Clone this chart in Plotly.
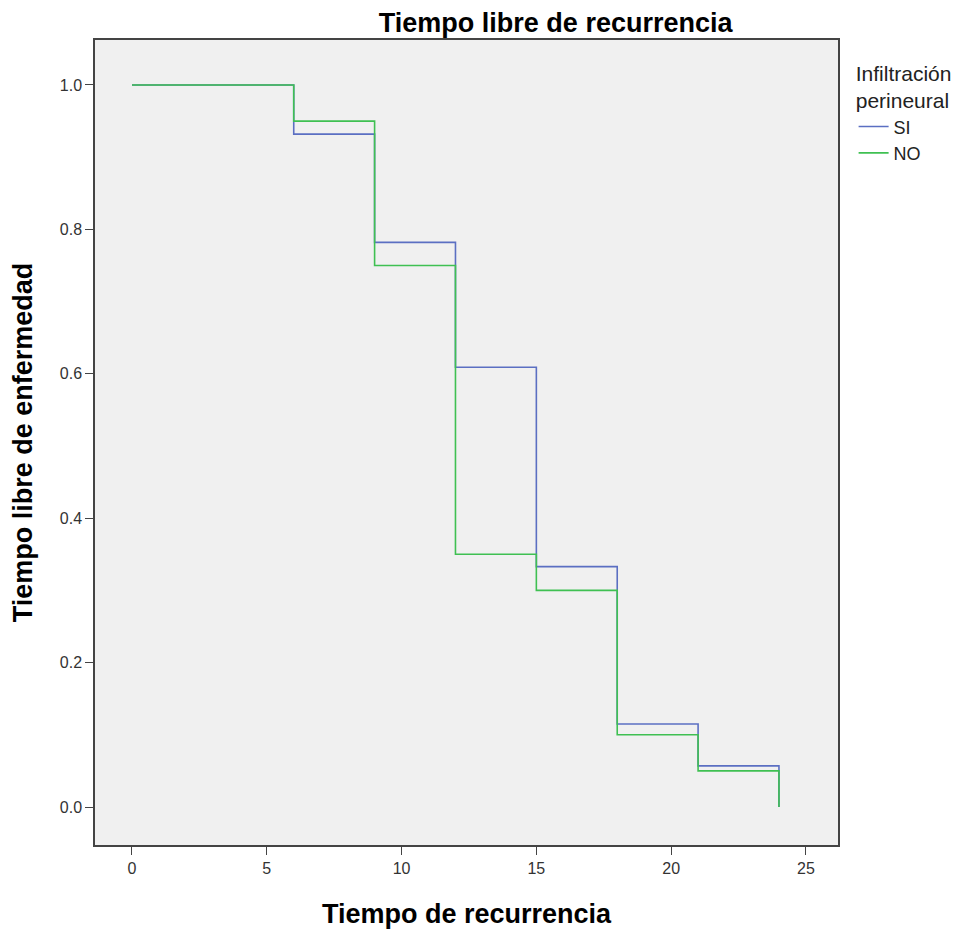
import plotly.graph_objects as go

times = [0, 6, 9, 12, 15, 18, 21, 24]
surv_si = [1.0, 0.932, 0.782, 0.609, 0.333, 0.115, 0.057, 0.0]
surv_no = [1.0, 0.95, 0.75, 0.35, 0.30, 0.10, 0.05, 0.0]
x_ticks = [0, 5, 10, 15, 20, 25]
y_ticks = [0.0, 0.2, 0.4, 0.6, 0.8, 1.0]

fig = go.Figure()
fig.add_trace(go.Scatter(x=times, y=surv_si, mode="lines", name="SI",
                         line=dict(color="#5b6fc2", width=1.6, shape="hv")))
fig.add_trace(go.Scatter(x=times, y=surv_no, mode="lines", name="NO",
                         line=dict(color="#3fc052", width=1.6, shape="hv")))

fig.update_layout(
    width=964, height=932,
    margin=dict(l=87, r=134, t=32, b=95),
    paper_bgcolor="white",
    plot_bgcolor="#f0f0f0",
    font=dict(family="Liberation Sans, Arial, sans-serif", color="#222222", size=14),
    title=dict(text="<b>Tiempo libre de recurrencia</b>", x=0.62, xref="paper", xanchor="center",
               y=0.984, yref="container", yanchor="middle",
               font=dict(size=27, color="black")),
    showlegend=True,
    legend=dict(x=1.021, y=0.983, xanchor="left", yanchor="top",
                bgcolor="rgba(0,0,0,0)",
                title=dict(text="Infiltración<br>perineural", side="top center",
                           font=dict(size=21, color="#222")),
                font=dict(size=18, color="#222"), itemwidth=30, tracegroupgap=0),
    xaxis=dict(range=[-1.372, 26.19], tickvals=x_ticks, ticktext=[str(v) for v in x_ticks],
               showgrid=False, zeroline=False, showline=True, linecolor="#444", linewidth=1.5,
               mirror=True, ticks="outside", ticklen=8, tickcolor="#444",
               title=dict(text="<b>Tiempo de recurrencia</b>", font=dict(size=27, color="black"), standoff=28),
               tickfont=dict(size=16, color="#333")),
    yaxis=dict(range=[-0.0526, 1.0623], tickvals=y_ticks, ticktext=[f"{v:.1f}" for v in y_ticks],
               showgrid=False, zeroline=False, showline=True, linecolor="#444", linewidth=1.5,
               mirror=True, ticks="outside", ticklen=8, tickcolor="#444",
               title=dict(text="<b>Tiempo libre de enfermedad</b>", font=dict(size=27, color="black"), standoff=20),
               tickfont=dict(size=16, color="#333")),
)

fig.write_html("out.html")
